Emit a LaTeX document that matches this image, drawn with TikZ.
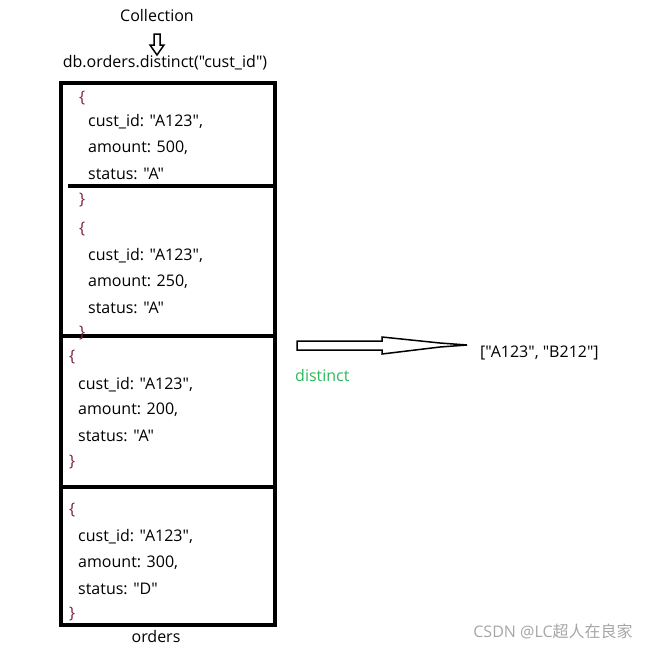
\documentclass[tikz,border=0pt]{standalone}
\usepackage{fontspec}
\setmainfont{Open Sans}[Ligatures=TeXOff]
\newfontfamily\cjk{Noto Sans CJK SC}
\definecolor{brc}{HTML}{7A1F3D}
\definecolor{grn}{HTML}{2EB85C}
\begin{document}
\begin{tikzpicture}[x=1pt,y=-1pt,
  txt/.style={font=\fontsize{16}{18}\selectfont,anchor=west,inner sep=0pt},
  br/.style={txt,text=brc},
  thick4/.style={line width=3.5pt}]
\useasboundingbox (0,0) rectangle (652,649);
\node[txt,anchor=center] (coll) at (157,15) {Collection};
\draw[line width=1.5pt] (154,34)--(160,34)--(160,45)--(164,45)--(157,55)--(150,45)--(154,45)--cycle;
\node[txt,anchor=center] (cmd) at (165,63) {db.orders.distinct("cust\_id")};
\draw[thick4] (61,83) rectangle (275,625);
\draw[thick4] (68,186)--(275,186);
\draw[thick4] (61,336)--(275,336);
\draw[thick4] (61,487)--(275,487);
% block 1
\node[br] (b1o) at (79,98) {\{};
\node[txt] (b1a) at (88,122) {cust\_id: "A123",};
\node[txt] (b1b) at (88,148) {amount: 500,};
\node[txt] (b1c) at (88,174) {status: "A"};
\node[br] (b1e) at (79,200) {\}};
% block 2
\node[br] (b2o) at (79,229) {\{};
\node[txt] (b2a) at (88,256) {cust\_id: "A123",};
\node[txt] (b2b) at (88,282) {amount: 250,};
\node[txt] (b2c) at (88,308) {status: "A"};
\node[br] (b2e) at (79,333) {\}};
% block 3
\node[br] (b3o) at (69,357) {\{};
\node[txt] (b3a) at (78,385) {cust\_id: "A123",};
\node[txt] (b3b) at (78,410) {amount: 200,};
\node[txt] (b3c) at (78,436) {status: "A"};
\node[br] (b3e) at (69,462) {\}};
% block 4
\node[br] (b4o) at (69,510) {\{};
\node[txt] (b4a) at (78,537) {cust\_id: "A123",};
\node[txt] (b4b) at (78,563) {amount: 300,};
\node[txt] (b4c) at (78,589) {status: "D"};
\node[br] (b4e) at (69,614) {\}};
% arrow
\draw[line width=1.5pt] (297,341)--(382,341)--(382,337)--(440,343)--(467,345)--(440,347)--(382,354)--(382,350)--(297,350)--cycle;
\node[txt,text=grn] (dist) at (295,375) {distinct};
\node[txt] (res) at (480,353) {["A123", "B212"]};
\node[txt,text=gray!70,anchor=center] (wm) at (553,631) {CSDN @LC{\cjk 超人在良家}};
\node[txt,anchor=center] (ord) at (156,636) {orders};
\end{tikzpicture}
\end{document}
